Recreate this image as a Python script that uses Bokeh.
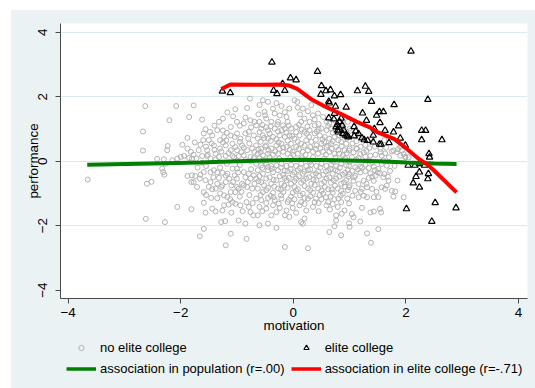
from bokeh.plotting import figure
from bokeh.layouts import column
from bokeh.models import Range1d, FixedTicker, CustomJSTickFormatter, Legend, LegendItem
from bokeh.embed import file_html
from bokeh.resources import INLINE

# ---------------- data ----------------
x_ticks = [-4, -2, 0, 2, 4]
y_ticks = [-4, -2, 0, 2, 4]

grey_points = [
    # far left
    (-3.65, -0.57), (-2.63, 1.71), (-2.67, 0.92), (-2.67, 0.33), (-2.60, -0.70), (-2.52, -0.64),
    (-2.62, -1.79), (-2.42, 0.07),
    # x from -2.36 to -0.65
    (-2.08, 1.71), (-1.77, 1.73), (-2.20, 1.27), (-1.85, 1.37), (-1.62, 1.29), (-1.25, 1.32),
    (-1.17, 1.51), (-1.03, 1.61), (-1.07, 1.39), (-0.82, 1.65), (-0.77, 1.94), (-0.76, 1.27),
    (-0.88, 1.17), (-0.69, 1.22), (-1.32, 1.22), (-1.11, 1.06), (-1.56, 0.99), (-1.59, 0.86),
    (-1.48, 0.91), (-1.50, 0.65), (-1.60, 0.65), (-1.65, 0.51), (-1.75, 0.58), (-1.88, 0.72),
    (-1.97, 0.51), (-2.23, 0.47), (-2.24, 0.34), (-1.88, 0.39), (-1.82, 0.29), (-1.77, 0.20),
    (-1.68, 0.34), (-1.53, 0.34), (-1.41, 0.49), (-1.38, 0.23), (-1.30, 0.39), (-1.23, 0.75),
    (-1.19, 0.65), (-1.11, 0.80), (-1.04, 0.75), (-1.00, 0.86), (-0.94, 0.70), (-0.85, 0.86),
    (-0.79, 0.91), (-0.70, 0.80), (-0.91, 0.49), (-0.82, 0.34), (-0.73, 0.39), (-1.00, 0.34),
    (-1.11, 0.34), (-1.20, 0.49), (-1.30, 0.65), (-1.35, 0.96), (-1.44, 0.80), (-1.08, 0.54),
    (-1.03, 0.44), (-0.88, 0.18), (-0.76, 0.13), (-0.69, 0.29), (-2.30, 0.06), (-2.27, -0.08),
    (-2.15, 0.03), (-2.06, 0.08), (-2.00, 0.13), (-1.94, 0.16), (-1.85, 0.10), (-1.80, 0.08),
    (-1.72, 0.08), (-1.62, 0.16), (-1.53, 0.16), (-1.47, 0.08), (-1.32, 0.13), (-1.20, 0.16),
    (-1.08, 0.16), (-0.97, 0.16), (-0.85, 0.03), (-0.76, 0.00), (-2.33, -0.23), (-2.29, -0.42),
    (-2.31, -0.34), (-1.88, -0.46), (-1.80, -0.44), (-1.74, -0.46), (-1.65, -0.42), (-1.59, -0.34),
    (-1.47, -0.34), (-1.41, -0.28), (-1.26, -0.36), (-1.17, -0.39), (-1.08, -0.23), (-1.00, -0.23),
    (-0.88, -0.34), (-0.79, -0.39), (-0.70, -0.44), (-0.76, -0.54), (-0.81, -0.65), (-0.91, -0.70),
    (-1.00, -0.54), (-1.04, -0.44), (-1.07, -0.65), (-1.10, -0.75), (-1.14, -0.54), (-1.20, -0.65),
    (-1.26, -0.75), (-1.35, -0.70), (-1.47, -0.65), (-1.56, -0.59), (-1.66, -0.54), (-1.77, -0.65),
    (-1.81, -0.65), (-1.71, -0.80), (-1.59, -0.96), (-1.44, -0.87), (-1.38, -0.85), (-1.28, -0.80),
    (-1.23, -1.06), (-1.17, -1.11), (-1.11, -0.96), (-1.03, -0.96), (-0.97, -0.85), (-0.88, -0.75),
    (-0.82, -0.80), (-0.73, -0.85), (-0.69, -0.70), (-1.46, -1.14), (-1.59, -1.29), (-1.44, -1.47),
    (-1.38, -1.56), (-1.26, -1.53), (-1.23, -1.37), (-1.08, -1.27), (-1.03, -1.32), (-0.94, -1.37),
    (-0.83, -1.27), (-0.79, -1.42), (-0.76, -1.58), (-2.06, -1.42), (-1.81, -1.49), (-1.56, -1.60),
    (-1.10, -1.60), (-0.97, -1.84), (-0.85, -1.94), (-0.71, -1.68), (-1.28, -1.89), (-1.21, -1.86),
    (-2.28, -1.89), (-1.59, -2.10), (-1.66, -2.33), (-1.11, -2.25), (-1.20, -2.61), (-0.83, -2.41),
    (-1.45, 0.55), (-1.25, 0.58), (-0.95, 0.60), (-0.78, 0.55), (-1.52, 0.20), (-1.15, 0.25),
    (-0.92, 0.28), (-1.38, 0.05), (-1.00, 0.02), (-0.70, 0.10), (-1.55, -0.15), (-1.30, -0.20),
    (-0.95, -0.12), (-0.75, -0.25), (-1.42, -0.50), (-1.20, -0.45), (-0.85, -0.50), (-1.50, -0.80),
    (-1.00, -0.80), (-0.78, -1.05), (-0.95, -1.10), (-1.35, -1.15), (-1.15, -1.35), (-0.72, -1.30),
    (-1.25, 0.95), (-0.95, 1.10), (-0.75, 1.05), (-1.40, 1.10),
    (-1.28, 0.30), (-1.05, 0.12), (-0.88, 0.42), (-1.18, -0.08), (-0.98, -0.35), (-1.32, -0.52),
    (-0.92, -0.95), (-1.12, -1.18), (-0.80, 0.70), (-1.18, 0.88), (-1.40, 0.35), (-1.62, -0.05),
    (-1.70, -0.20), (-1.35, -0.35), (-1.55, 0.45), (-0.85, 1.35), (-1.00, 1.22), (-1.55, -1.05),
    (-1.30, -1.00), (-0.90, -1.55),
    # x from -0.66 to 1.0
    (-0.54, 1.89), (-0.45, 1.84), (0.02, 1.89), (0.07, 1.84), (0.17, 1.63), (0.26, 1.55),
    (0.35, 1.42), (0.44, 1.48), (0.53, 1.37), (0.59, 1.22), (0.64, 1.17), (0.73, 1.27),
    (0.32, 1.74), (-0.07, 1.63), (-0.21, 1.71), (-0.60, 1.74), (-0.51, 1.53), (-0.36, 1.63),
    (-0.33, 1.48), (-0.24, 1.42), (-0.12, 1.37), (-0.10, 1.22), (-0.18, 1.11), (-0.27, 1.22),
    (-0.39, 1.22), (-0.48, 1.32), (-0.60, 1.22), (-0.66, 1.11), (-0.57, 1.01), (-0.45, 0.96),
    (-0.33, 1.01), (-0.21, 0.96), (-0.04, 1.01), (0.05, 1.06), (0.14, 1.22), (0.20, 1.32),
    (0.29, 1.22), (0.38, 1.11), (0.50, 1.01), (0.59, 0.96), (0.67, 1.01), (0.79, 1.06),
    (0.88, 1.17), (0.97, 1.22), (1.00, 1.01), (0.91, 0.91), (0.82, 0.80), (0.73, 0.75),
    (0.64, 0.70), (0.56, 0.75), (0.47, 0.80), (0.38, 0.86), (0.29, 0.96), (0.20, 0.91),
    (0.11, 0.80), (0.02, 0.70), (-0.07, 0.80), (-0.15, 0.75), (-0.24, 0.80), (-0.36, 0.75),
    (-0.45, 0.70), (-0.54, 0.80), (-0.63, 0.70), (-0.66, 0.49), (-0.57, 0.39), (-0.48, 0.49),
    (-0.39, 0.39), (-0.30, 0.49), (-0.21, 0.54), (-0.12, 0.44), (-0.04, 0.54), (0.05, 0.44),
    (0.14, 0.54), (0.23, 0.65), (0.32, 0.60), (0.41, 0.49), (0.50, 0.54), (0.59, 0.44),
    (0.67, 0.54), (0.76, 0.44), (0.85, 0.60), (0.94, 0.54), (1.00, 0.39), (0.91, 0.34),
    (0.82, 0.23), (0.73, 0.23), (0.64, 0.29), (0.53, 0.29), (0.44, 0.23), (0.35, 0.29),
    (0.26, 0.34), (0.17, 0.29), (0.08, 0.23), (-0.01, 0.29), (-0.10, 0.23), (-0.18, 0.29),
    (-0.27, 0.23), (-0.36, 0.20), (-0.45, 0.23), (-0.54, 0.18), (-0.63, 0.23),
    (-0.60, 0.10), (-0.42, 0.12), (-0.25, 0.08), (-0.05, 0.11), (0.15, 0.09), (0.35, 0.12),
    (0.55, 0.08), (0.75, 0.11), (0.92, 0.09),
    (-0.66, -0.08), (-0.57, -0.13), (-0.48, -0.08), (-0.39, -0.15), (-0.30, -0.13), (-0.21, -0.08),
    (-0.12, -0.15), (-0.04, -0.11), (0.05, -0.15), (0.14, -0.08), (0.23, -0.15), (0.32, -0.11),
    (0.41, -0.15), (0.50, -0.08), (0.59, -0.15), (0.67, -0.11), (0.76, -0.15), (0.85, -0.08),
    (0.94, -0.13), (1.00, -0.02),
    (-0.63, -0.28), (-0.54, -0.39), (-0.45, -0.28), (-0.36, -0.34), (-0.27, -0.28), (-0.18, -0.42),
    (-0.10, -0.31), (-0.01, -0.42), (0.08, -0.28), (0.17, -0.39), (0.26, -0.28), (0.35, -0.42),
    (0.44, -0.31), (0.53, -0.42), (0.62, -0.28), (0.70, -0.39), (0.79, -0.31), (0.88, -0.42),
    (0.97, -0.28),
    (-0.66, -0.54), (-0.57, -0.65), (-0.48, -0.54), (-0.39, -0.70), (-0.30, -0.59), (-0.21, -0.70),
    (-0.12, -0.59), (-0.04, -0.70), (0.05, -0.54), (0.14, -0.67), (0.23, -0.54), (0.32, -0.70),
    (0.41, -0.59), (0.50, -0.70), (0.59, -0.54), (0.67, -0.67), (0.76, -0.54), (0.85, -0.70),
    (0.94, -0.59), (1.00, -0.75),
    (-0.63, -0.85), (-0.54, -0.96), (-0.45, -0.83), (-0.36, -0.98), (-0.27, -0.85), (-0.18, -0.96),
    (-0.10, -0.83), (-0.01, -0.98), (0.08, -0.87), (0.17, -1.01), (0.26, -0.85), (0.35, -0.98),
    (0.44, -0.85), (0.53, -1.01), (0.62, -0.87), (0.70, -0.98), (0.79, -0.85), (0.88, -1.01),
    (0.97, -0.90),
    (-0.66, -1.16), (-0.57, -1.21), (-0.45, -1.14), (-0.33, -1.21), (-0.21, -1.16), (-0.10, -1.27),
    (0.02, -1.18), (0.14, -1.27), (0.26, -1.16), (0.38, -1.27), (0.50, -1.18), (0.62, -1.27),
    (0.73, -1.18), (0.85, -1.27), (0.96, -1.16),
    (-0.60, -1.42), (-0.48, -1.47), (-0.36, -1.37), (-0.24, -1.45), (-0.12, -1.53), (-0.01, -1.45),
    (0.11, -1.37), (0.23, -1.53), (0.35, -1.42), (0.59, -1.37), (0.79, -1.42), (0.91, -1.53),
    (0.86, -1.63), (0.76, -1.68), (-0.63, -1.68), (-0.39, -1.68), (-0.15, -1.68), (-0.07, -1.73),
    (0.20, -1.78), (0.14, -1.89), (0.76, -1.84), (-0.60, -1.99), (-0.45, -1.94), (-0.30, -2.07),
    (0.17, -1.94), (1.00, -2.04), (0.64, -2.20), (0.85, -2.30), (-0.15, -2.66), (0.26, -2.70),
    (0.73, -2.02),
    (-0.55, 1.12), (-0.40, 1.08), (-0.28, 1.14), (-0.08, 1.10), (0.10, 1.13), (0.25, 1.07),
    (0.45, 1.15), (0.62, 1.09),
    (-0.60, 0.90), (-0.42, 0.86), (-0.27, 0.92), (-0.12, 0.88), (0.05, 0.90), (0.24, 0.85),
    (0.42, 0.92), (0.70, 0.88), (0.86, 0.93),
    (-0.58, 0.60), (-0.40, 0.63), (-0.26, 0.58), (-0.10, 0.64), (0.08, 0.61), (0.40, 0.66),
    (0.55, 0.60), (0.80, 0.65), (0.95, 0.70),
    (-0.62, 0.36), (-0.44, 0.33), (-0.25, 0.38), (-0.06, 0.35), (0.10, 0.38), (0.30, 0.44),
    (0.48, 0.40), (0.68, 0.38), (0.86, 0.46),
    (-0.50, 0.02), (0.30, -0.02), (0.70, 0.00),
    (-0.55, -0.20), (-0.38, -0.24), (-0.22, -0.20), (-0.05, -0.25), (0.12, -0.22), (0.30, -0.26),
    (0.48, -0.20), (0.66, -0.24), (0.83, -0.20), (0.98, -0.48),
    (-0.60, -0.46), (-0.42, -0.50), (-0.24, -0.47), (-0.08, -0.52), (0.10, -0.47), (0.28, -0.50),
    (0.46, -0.46), (0.64, -0.50), (0.82, -0.48),
    (-0.52, -0.75), (-0.34, -0.79), (-0.16, -0.76), (0.02, -0.80), (0.20, -0.77), (0.38, -0.74),
    (0.56, -0.80), (0.74, -0.76), (0.92, -0.79),
    (-0.58, -1.05), (-0.40, -1.08), (-0.22, -1.06), (-0.04, -1.10), (0.12, -1.06), (0.30, -1.09),
    (0.47, -1.05), (0.66, -1.10), (0.84, -1.07),
    (-0.48, -1.30), (-0.26, -1.32), (-0.02, -1.31), (0.20, -1.33), (0.45, -1.30), (0.70, -1.33),
    (-0.50, 1.42), (-0.15, 1.52), (0.12, 1.45), (0.38, 1.30), (-0.62, 1.45), (0.08, 1.66),
    (-0.30, 1.80), (-0.48, 1.05), (-0.15, 1.02), (0.15, 0.98), (0.45, 0.98), (0.75, 0.95),
    (-0.52, 0.72), (-0.30, 0.68), (-0.02, 0.78), (0.28, 0.75), (0.52, 0.68), (0.70, 0.62),
    (0.90, 0.78), (-0.50, 0.45), (-0.18, 0.42), (0.20, 0.48), (0.40, 0.38), (0.62, 0.48),
    (0.80, 0.35), (0.95, 0.25), (-0.58, 0.28), (-0.32, 0.30), (0.00, 0.20), (0.22, 0.20),
    (0.58, 0.20), (0.88, 0.18), (-0.45, -0.18), (-0.15, -0.30), (0.02, -0.35), (0.20, -0.32),
    (0.40, -0.38), (0.58, -0.32), (0.75, -0.28), (0.92, -0.36), (-0.62, -0.62), (-0.35, -0.58),
    (-0.15, -0.52), (0.02, -0.62), (0.18, -0.60), (0.36, -0.58), (0.55, -0.64), (0.72, -0.60),
    (0.90, -0.66), (-0.48, -0.90), (-0.22, -0.88), (0.05, -0.92), (0.30, -0.90), (0.50, -0.92),
    (0.68, -0.88), (0.85, -0.92), (-0.35, -1.12), (-0.08, -1.20), (0.20, -1.14), (0.40, -1.16),
    (0.58, -1.12), (0.80, -1.16), (-0.55, -1.55), (-0.30, -1.58), (0.05, -1.60), (0.45, -1.55),
    (0.65, -1.50),
    # x from 1.0 to 2.1
    (0.99, 0.33), (1.07, 0.27), (1.13, 0.38), (1.19, 0.22), (1.25, 0.27), (1.04, 0.12),
    (1.16, 0.10), (1.28, 0.14), (1.37, 0.17), (1.46, 0.20), (1.57, 0.17), (1.63, 0.24),
    (1.78, 0.33), (1.86, 0.37), (1.93, 0.33), (1.96, 0.22), (0.99, -0.14), (1.10, -0.19),
    (1.19, -0.17), (1.28, -0.11), (1.34, -0.21), (1.43, -0.17), (1.51, -0.24), (1.57, -0.09),
    (1.66, -0.14), (0.99, -0.40), (1.10, -0.45), (1.19, -0.35), (1.28, -0.31), (1.37, -0.38),
    (1.46, -0.45), (1.54, -0.38), (1.07, -0.61), (1.16, -0.71), (1.25, -0.61), (1.34, -0.52),
    (1.43, -0.61), (1.60, -0.50), (1.68, -0.48), (1.69, -0.61), (0.99, -0.81), (1.10, -0.92),
    (1.22, -0.86), (1.31, -0.81), (1.40, -0.86), (1.57, -0.81), (1.63, -0.86), (1.75, -0.92),
    (1.05, -1.07), (1.16, -1.12), (1.25, -1.07), (1.31, -1.12), (1.43, -1.12), (1.51, -1.12),
    (1.78, -1.10), (1.96, -1.12), (0.99, -1.31), (1.22, -1.45), (1.37, -1.59), (1.43, -1.56),
    (1.54, -1.48), (1.56, -1.59), (1.04, -1.64), (1.07, -1.74), (0.99, -1.93), (1.19, -1.87),
    (1.51, -2.11), (1.31, -2.24), (1.38, -2.53), (1.66, -0.76), (1.81, -0.94), (1.99, 0.12),
    (1.90, 0.17), (2.05, 0.12),
    (1.05, 0.55), (1.12, 0.62), (1.20, 0.45), (1.28, 0.50), (1.35, 0.40), (1.45, 0.45),
    (1.55, 0.38), (1.65, 0.42), (1.75, 0.30), (1.84, 0.28), (1.10, 0.80), (1.02, 0.95),
    (1.18, 0.75), (1.40, 0.70), (1.62, 0.65), (1.90, 0.45), (1.99, 0.14),
    (1.12, 0.05), (1.35, 0.02), (1.60, 0.02), (1.15, -0.25), (1.40, -0.05), (1.30, -0.70),
    (1.50, -0.35), (1.72, -0.30), (1.85, -0.60),
    (1.05, -0.30), (1.22, -0.20), (1.45, -0.28), (1.62, -0.40), (1.08, -0.50), (1.40, -0.48),
    (1.20, -0.95), (1.48, -0.95), (1.12, 0.40), (1.30, 0.32), (1.55, 0.28), (1.70, 0.12),
    (1.80, -0.15),
]
grey_x = [pt[0] for pt in grey_points]
grey_y = [pt[1] for pt in grey_points]

elite_points = [
    (-1.26, 2.17), (-1.12, 2.12), (-0.38, 3.07), (-0.35, 2.19), (-0.29, 2.09), (-0.19, 2.40),
    (-0.15, 2.19), (-0.05, 2.58), (0.05, 2.52), (0.43, 2.78), (0.50, 2.34), (0.49, 2.07),
    (0.58, 2.18), (0.66, 2.21), (0.73, 2.02), (0.84, 2.06), (1.14, 2.18), (1.28, 2.32),
    (1.34, 2.16), (1.39, 1.85), (1.79, 1.75), (2.09, 3.41), (2.39, 1.91), (0.63, 1.85),
    (0.64, 1.80), (0.75, 1.70), (0.94, 1.67), (0.72, 1.31), (0.85, 1.33), (0.63, 1.34),
    (1.23, 1.49), (1.30, 1.26), (1.53, 1.53), (1.60, 1.53), (1.48, 1.42), (1.54, 1.19),
    (1.87, 1.09), (1.78, 0.90), (1.90, 0.71), (1.70, 0.57), (2.28, 0.95), (2.35, 0.95),
    (2.28, 0.66), (2.64, 0.66), (1.99, 0.49), (0.78, 1.14), (0.81, 1.05), (0.87, 1.11),
    (0.90, 0.95), (0.96, 0.78), (1.08, 1.07), (1.11, 0.93), (1.08, 0.78), (1.16, 0.85),
    (1.22, 0.72), (1.26, 0.66), (1.32, 0.64), (1.42, 0.80), (1.44, 1.00), (1.42, 0.59),
    (1.53, 0.52), (1.56, 0.52), (1.63, 0.95), (0.80, 0.90), (0.93, 0.80), (2.04, -0.13),
    (2.16, -0.13), (2.24, -0.08), (2.33, -0.13), (2.41, 0.23), (2.42, 0.12), (2.40, -0.39),
    (2.39, -0.55), (2.18, -0.48), (2.24, -0.34), (2.13, -0.68), (2.24, -0.81), (2.01, -1.48),
    (2.52, -1.29), (2.46, -1.87), (2.89, -1.45), (0.76, 1.06), (0.79, 0.96), (0.88, 0.85),
    (0.98, 0.75), (0.73, 1.48), (0.82, 1.22),
]
elite_x = [pt[0] for pt in elite_points]
elite_y = [pt[1] for pt in elite_points]

# smoothed association in whole population (green)
pop_x = [-3.66, -2.5, -1.65, -1.0, -0.3, 0.13, 0.8, 1.5, 2.02, 2.5, 2.90]
pop_y = [-0.11, -0.07, -0.04, 0.00, 0.03, 0.04, 0.03, 0.00, -0.04, -0.07, -0.09]

# smoothed association within elite college (red)
fit_x = [-1.28, -1.11, -0.6, -0.23, -0.08, 0.07, 0.31, 0.57, 0.84, 1.14, 1.37, 1.49, 1.79,
         2.02, 2.23, 2.38, 2.50, 2.90]
fit_y = [2.24, 2.38, 2.37, 2.38, 2.35, 2.24, 1.93, 1.69, 1.47, 1.21, 1.04, 0.90, 0.69,
         0.38, 0.07, -0.10, -0.29, -0.97]

labels = ["no elite college", "elite college",
          "association in population (r=.00)", "association in elite college (r=-.71)"]

# ---------------- styles ----------------
FONT = "Liberation Sans"
FS = "13.4px"
LEG_FS = "13px"
BG = "#eaf2f3"
GREY = "#b2b2b2"
GREEN = "#008000"
RED = "#ff0000"

# ---------------- main plot ----------------
p = figure(width=524, height=330, output_backend="svg", toolbar_location=None,
           x_range=Range1d(-4.135, 4.16), y_range=Range1d(-4.26, 4.27),
           min_border_left=49, min_border_right=8, min_border_top=13, min_border_bottom=42)
p.border_fill_color = BG
p.background_fill_color = "white"
p.outline_line_color = None

p.xgrid.visible = False
p.ygrid.ticker = FixedTicker(ticks=[-2, 0, 2, 4])
p.ygrid.grid_line_color = "#dde9ec"
p.ygrid.grid_line_width = 1

fmt = CustomJSTickFormatter(code="return tick < 0 ? '\u2212' + Math.abs(tick) : String(tick);")
for ax, ticks in ((p.xaxis, x_ticks), (p.yaxis, y_ticks)):
    ax.ticker = FixedTicker(ticks=ticks)
    ax.formatter = fmt
    ax.axis_line_color = "#4a4a4a"
    ax.major_tick_line_color = "#4a4a4a"
    ax.major_tick_out = 5
    ax.major_tick_in = 0
    ax.minor_tick_line_color = None
    ax.major_label_text_font = FONT
    ax.major_label_text_font_size = FS
    ax.major_label_text_color = "black"
    ax.axis_label_text_font = FONT
    ax.axis_label_text_font_size = FS
    ax.axis_label_text_font_style = "normal"
    ax.axis_label_text_color = "black"

p.xaxis.axis_label = "motivation"
p.xaxis.major_label_standoff = 4
p.xaxis.axis_label_standoff = -2
p.yaxis.axis_label = "performance"
p.yaxis.major_label_orientation = "vertical"
p.yaxis.major_label_standoff = 8
p.yaxis.axis_label_standoff = -5

r_grey = p.scatter(grey_x, grey_y, marker="circle", size=5, line_color=GREY,
                   fill_color=None, line_width=1)
r_tri = p.scatter(elite_x, elite_y, marker="triangle", size=6.5, line_color="black",
                  fill_color=None, line_width=1.2)
r_pop = p.line(pop_x, pop_y, line_color=GREEN, line_width=4)
r_fit = p.line(fit_x, fit_y, line_color=RED, line_width=4)

# ---------------- legend strip (below the plot) ----------------
q = figure(width=524, height=48, output_backend="svg", toolbar_location=None,
           x_range=Range1d(0, 1), y_range=Range1d(0, 1),
           x_axis_location=None, y_axis_location=None,
           min_border_left=0, min_border_right=0, min_border_top=0, min_border_bottom=0)
q.grid.visible = False
q.border_fill_color = BG
q.background_fill_color = None
q.outline_line_color = None

# legend keys only: these sit outside the strip's visible range
k_grey = q.scatter([-9], [-9], marker="circle", size=5, line_color=GREY, fill_color=None,
                   line_width=1)
k_tri = q.scatter([-9], [-9], marker="triangle", size=6.5, line_color="black", fill_color=None,
                  line_width=1.2)
k_pop = q.line([-9, -8], [-9, -9], line_color=GREEN, line_width=3.5)
k_fit = q.line([-9, -8], [-9, -9], line_color=RED, line_width=3.5)

legend = Legend(items=[LegendItem(label=labels[0], renderers=[k_grey]),
                       LegendItem(label=labels[1], renderers=[k_tri]),
                       LegendItem(label=labels[2], renderers=[k_pop]),
                       LegendItem(label=labels[3], renderers=[k_fit])],
                location=(6, 12), orientation="horizontal", ncols=2,
                glyph_width=30, glyph_height=13, label_height=13,
                label_standoff=4, spacing=6, padding=0, margin=0,
                border_line_color=None, background_fill_alpha=0,
                label_text_font=FONT, label_text_font_size=LEG_FS, label_text_color="black")
q.add_layout(legend, "center")

layout = column(p, q, spacing=0)
layout.margin = (10, 0, 0, 11)
layout.styles = {"background-color": BG}
open("out.html", "w").write(file_html(layout, INLINE))
